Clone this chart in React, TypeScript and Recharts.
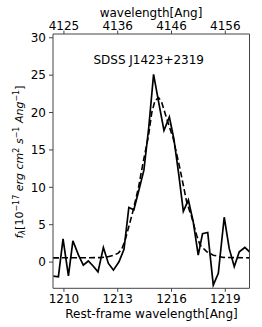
import React from "react";
import {
  LineChart,
  Line,
  XAxis,
  YAxis,
  ReferenceLine,
} from "recharts";

// observed spectrum, rest-frame wavelength [Ang] and flux [1e-17 erg/cm2/s/Ang]
const specWave = [
  1209.41, 1209.69, 1209.95, 1210.25, 1210.5, 1210.8, 1211.08, 1211.36,
  1211.64, 1211.9, 1212.2, 1212.48, 1212.76, 1213.07, 1213.35, 1213.62,
  1213.9, 1214.18, 1214.46, 1214.73, 1215.0, 1215.29, 1215.58, 1215.88,
  1216.13, 1216.4, 1216.66, 1216.94, 1217.21, 1217.49, 1217.73, 1218.02,
  1218.33, 1218.61, 1218.94, 1219.22, 1219.5, 1219.78, 1220.09, 1220.35,
];
const specFlux = [
  -1.87, -1.96, 3.1, -1.85, 2.85, 1.0, -0.4, 0.15, -0.55, -1.3, 1.96, -0.18,
  -1.07, 0.04, 1.7, 7.3, 7.0, 9.6, 12.3, 18.0, 25.1, 21.3, 17.6, 19.4, 16.5,
  11.8, 6.8, 8.3, 5.4, 0.93, 3.8, 3.96, -3.07, -1.5, 6.0, 1.8, -0.6, 1.38,
  1.96, 1.38,
];

// line fit (dashed)
const fitWave = [
  1209.39, 1212.01, 1212.46, 1212.76, 1213.03, 1213.22, 1213.41, 1213.59,
  1213.87, 1214.16, 1214.43, 1214.71, 1214.9, 1215.08, 1215.28, 1215.45,
  1215.73, 1216.1, 1216.47, 1216.85, 1217.13, 1217.4, 1217.59, 1217.96,
  1218.33, 1218.89, 1220.35,
];
const fitFlux = [
  0.57, 0.6, 0.72, 0.9, 1.2, 1.7, 2.9, 4.5, 7.0, 10.0, 13.5, 16.8, 20.0, 21.6,
  22.0, 21.4, 19.2, 16.5, 12.5, 8.0, 6.0, 3.6, 2.3, 1.4, 0.93, 0.63, 0.57,
];

const restTicks = [1210, 1213, 1216, 1219];
const obsTickLabels = ["4125", "4136", "4146", "4156"];
const fluxTicks = [0, 5, 10, 15, 20, 25, 30];

const xDomain: [number, number] = [1209.39, 1220.35];
const yDomain: [number, number] = [-3.5, 30.5];

const spec = specWave.map((w, i) => ({ w, f: specFlux[i] }));
const fit = fitWave.map((w, i) => ({ w, f: fitFlux[i] }));

const SPINE = "#444";
const tickStyle = { fontSize: 12, fill: "#000" };

function YLabel() {
  const cx = 14.5;
  const cy = 162;
  const sup = 8;
  return (
    <text
      x={cx}
      y={cy}
      transform={`rotate(-90, ${cx}, ${cy})`}
      textAnchor="middle"
      fontSize={11}
      fill="#000"
    >
      <tspan fontStyle="italic">f</tspan>
      <tspan fontStyle="italic" fontSize={sup} dy={2}>λ</tspan>
      <tspan dy={-2}>[10</tspan>
      <tspan fontSize={sup} dy={-4}>−17</tspan>
      <tspan fontStyle="italic" dy={4}> erg cm</tspan>
      <tspan fontSize={sup} dy={-4}>2</tspan>
      <tspan fontStyle="italic" dy={4}> s</tspan>
      <tspan fontSize={sup} dy={-4}>−1</tspan>
      <tspan fontStyle="italic" dy={4}> Ang</tspan>
      <tspan fontSize={sup} dy={-4}>−1</tspan>
      <tspan dy={4}>]</tspan>
    </text>
  );
}

function TopLabel() {
  return (
    <text x={143} y={17} textAnchor="middle" fontSize={12} fill="#000">
      wavelength[Ang]
    </text>
  );
}

function BottomLabel() {
  return (
    <text x={143.5} y={317.5} textAnchor="middle" fontSize={12} fill="#000">
      Rest-frame wavelength[Ang]
    </text>
  );
}

export default function App() {
  return (
    <div style={{ paddingLeft: 8 }}>
      <style>{`body{margin:0;overflow:hidden}`}</style>
      <LineChart
        width={254}
        height={327}
        margin={{ top: 8, right: 12.5, left: 0, bottom: 0 }}
        style={{ fontFamily: "DejaVu Sans" }}
      >
        <XAxis
          xAxisId="bottom"
          dataKey="w"
          type="number"
          domain={xDomain}
          allowDataOverflow
          ticks={restTicks}
          height={38.7}
          stroke={SPINE}
          tickSize={3.5}
          tickMargin={2.5}
          tick={tickStyle}
          label={<BottomLabel />}
        />
        <XAxis
          xAxisId="top"
          orientation="top"
          dataKey="w"
          type="number"
          domain={xDomain}
          allowDataOverflow
          ticks={restTicks}
          tickFormatter={(_v: number, i: number) => obsTickLabels[i]}
          height={26}
          stroke={SPINE}
          tickSize={3.5}
          tickMargin={1}
          tick={tickStyle}
          label={<TopLabel />}
        />
        <YAxis
          type="number"
          domain={yDomain}
          allowDataOverflow
          ticks={fluxTicks}
          width={45}
          stroke={SPINE}
          tickSize={4}
          tickMargin={3}
          tick={tickStyle}
          label={<YLabel />}
        />
        <ReferenceLine
          xAxisId="bottom"
          x={xDomain[1]}
          stroke={SPINE}
          strokeWidth={1}
        />
        <Line
          xAxisId="top"
          data={fit}
          dataKey="f"
          type="linear"
          stroke="#000"
          strokeWidth={1.6}
          strokeDasharray="6 3"
          dot={false}
          isAnimationActive={false}
        />
        <Line
          xAxisId="bottom"
          data={spec}
          dataKey="f"
          type="linear"
          stroke="#000"
          strokeWidth={1.7}
          dot={false}
          isAnimationActive={false}
        />
        <text x={140.7} y={63.5} textAnchor="middle" fontSize={12} fill="#000">
          SDSS J1423+2319
        </text>
      </LineChart>
    </div>
  );
}
